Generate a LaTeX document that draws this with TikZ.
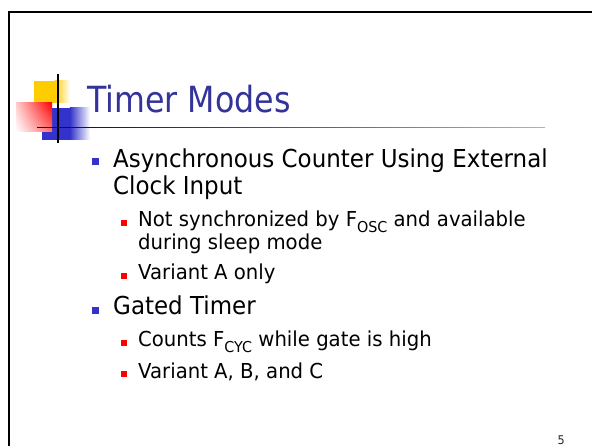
\documentclass[tikz,border=0pt]{standalone}
\usepackage{fontspec}
\setmainfont[FakeStretch=0.93]{DejaVu Sans}
\newfontfamily\titlefont[FakeStretch=0.88]{DejaVu Sans}
\newfontfamily\subfont[FakeStretch=0.955]{DejaVu Sans}
\usetikzlibrary{shadings}
\definecolor{titleblue}{HTML}{333399}
\definecolor{bulblue}{HTML}{3333CC}
\definecolor{logoyellow}{HTML}{FFCC00}
\definecolor{logoblue}{HTML}{3333CC}
\definecolor{bulred}{HTML}{FF0000}
\pgfdeclarehorizontalshading{rulefade}{2bp}{color(0bp)=(black); color(30bp)=(black!90); color(50bp)=(black!65); color(75bp)=(black!30); color(100bp)=(white)}
\newcommand\subtxt[1]{\raisebox{-5.5pt}{\fontsize{15}{15}\selectfont #1}}
\tikzset{
  titletext/.style={anchor=base west, inner sep=0pt, text=titleblue, font=\titlefont\fontsize{36}{40}\selectfont},
  lvone/.style={anchor=base west, inner sep=0pt, font=\fontsize{24.7}{28}\selectfont},
  lvtwo/.style={anchor=base west, inner sep=0pt, font=\subfont\fontsize{20.6}{24}\selectfont},
  bulone/.style={fill=bulblue, inner sep=0pt, minimum size=7pt, draw=none},
  bultwo/.style={fill=bulred, inner sep=0pt, minimum size=6pt, draw=none},
  pagenum/.style={anchor=base west, inner sep=0pt, text=black!85, font=\fontsize{12}{12}\selectfont}
}
\begin{document}
\begin{tikzpicture}[x=1pt,y=-1pt]
\useasboundingbox (0,0) rectangle (592,446);
\fill[white] (0,0) rectangle (592,446);
% slide frame
\draw[line width=2pt] (9,470) -- (9,12) -- (620,12);
% logo
\fill[logoyellow] (34,81) rectangle (55,103);
\shade[left color=logoyellow, right color=white] (54.8,81) rectangle (70,103);
\fill[logoblue] (42,108) rectangle (70,140);
\shade[left color=logoblue, right color=white] (69.8,108) rectangle (90,140);
\shade[upper right=bulred, upper left=bulred!20, lower right=bulred!55, lower left=white] (16,103) rectangle (52,132);
\draw[line width=1.3pt] (58,74) -- (58,143);
\shade[shading=rulefade] (37,126) rectangle (545,128.2);
% title
\node[titletext] (title) at (87,113) {Timer Modes};
% bullets
\node[bulone] (b1) at (95.5,161.5) {};
\node[lvone] (t1a) at (113,168) {Asynchronous Counter Using External};
\node[lvone] (t1b) at (113,195) {Clock Input};
\node[bultwo] (b2) at (124,223) {};
\node[lvtwo] (t2a) at (138,227) {Not synchronized by F\subtxt{OSC} and available};
\node[lvtwo] (t2b) at (138,250) {during sleep mode};
\node[bultwo] (b3) at (124,276) {};
\node[lvtwo] (t3) at (138,280) {Variant A only};
\node[bulone] (b4) at (95.5,310.5) {};
\node[lvone] (t4) at (113,315) {Gated Timer};
\node[bultwo] (b5) at (124,343) {};
\node[lvtwo] (t5) at (138,347) {Counts F\subtxt{CYC} while gate is high};
\node[bultwo] (b6) at (124,374) {};
\node[lvtwo] (t6) at (138,378) {Variant A, B, and C};
\node[pagenum] (pg) at (557.5,444) {5};
\end{tikzpicture}
\end{document}
